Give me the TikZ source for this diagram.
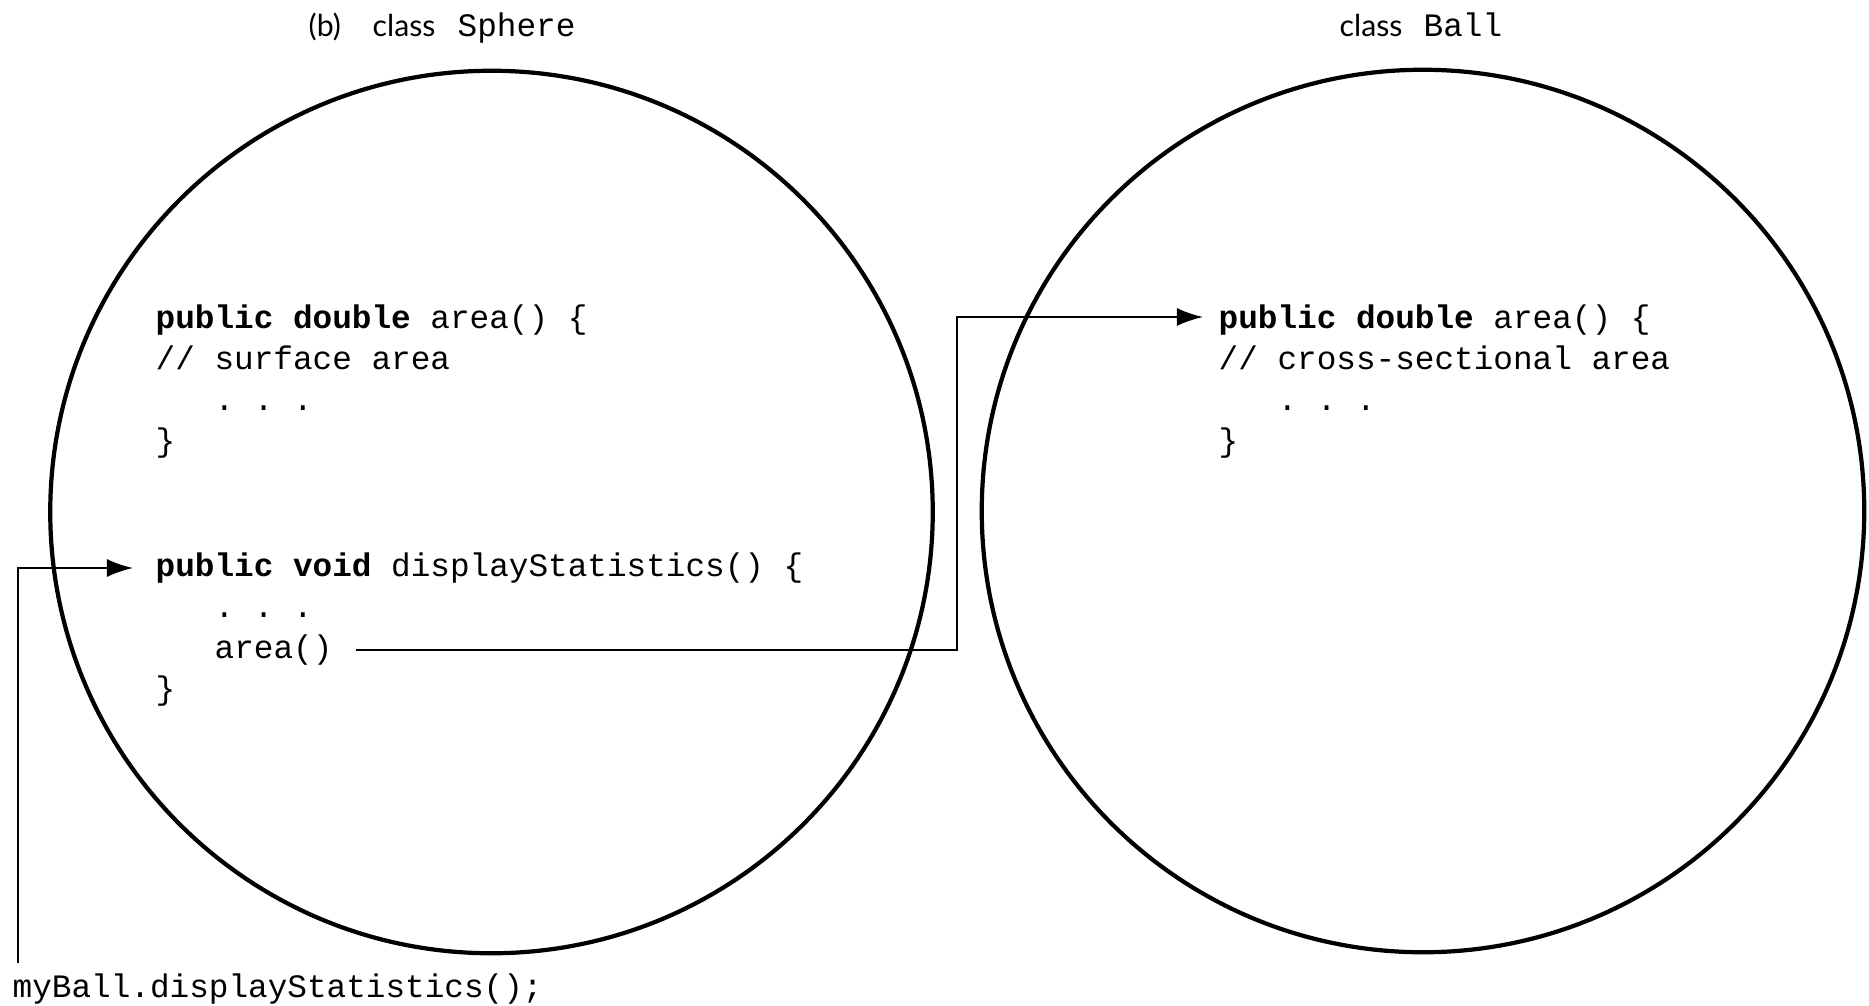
\documentclass[tikz,border=0pt]{standalone}
\usepackage{fontspec}
\setmonofont{Liberation Mono}
\newfontfamily\headfont{Lato}
\usetikzlibrary{arrows.meta,calc}
\begin{document}
\begin{tikzpicture}[x=0.01cm,y=-0.01cm,
  ring/.style={circle,draw,line width=1.2pt,minimum size=8.82cm,inner sep=0pt},
  code/.style={anchor=base west,inner sep=0pt,font=\fontsize{9.3}{11}\ttfamily},
  head/.style={anchor=base west,inner sep=0pt,font=\fontsize{8.6}{10}\headfont},
  link/.style={line width=0.6pt},
  arr/.style={link,-{Latex[length=2.6mm,width=1.8mm]}}]
\useasboundingbox (0,0) rectangle (1869,1005);

% the two objects
\node[ring] (sphere) at (491.5,512) {};
\node[ring] (ball) at (1423,511) {};

% headings
\node[head] (tag) at (308,36) {(b)};
\node[head] (sphcls) at (372,36) {class};
\node[code] (sphname) at (457,36) {Sphere};
\node[head] (ballcls) at (1339,36) {class};
\node[code] (ballname) at (1423,36) {Ball};

% Sphere: area()
\node[code] (sphsig) at (155,328) {\textbf{public double} area() \{};
\node[code] (sphcmt) at (155,369) {// surface area};
\node[code] (sphdots) at (214,410) {. . .};
\node[code] (sphend) at (155,451) {\}};

% Sphere: displayStatistics()
\node[code] (dispsig) at (155,576) {\textbf{public void} displayStatistics() \{};
\node[code] (dispdots) at (214,617) {. . .};
\node[code] (areacall) at (214,658) {area()};
\node[code] (dispend) at (155,699) {\}};

% Ball: area()
\node[code] (ballsig) at (1218,328) {\textbf{public double} area() \{};
\node[code] (ballcmt) at (1218,369) {// cross-sectional area};
\node[code] (balldots) at (1277,410) {. . .};
\node[code] (ballend) at (1218,451) {\}};

% the call
\node[code] (mycall) at (12,997) {myBall.displayStatistics();};

% connectors
\coordinate (callup) at ($(mycall.base west)+(6,-34)$);
\coordinate (dispin) at ($(dispsig.base west)+(-22,-8)$);
\draw[arr] (callup) |- (dispin);

\coordinate (areaout) at ($(areacall.base east)+(23,-8)$);
\coordinate (ballin) at ($(ballsig.base west)+(-15,-11)$);
\coordinate (bend) at (957,0);
\draw[arr] (areaout) -| (bend |- ballin) -- (ballin);
\end{tikzpicture}
\end{document}
